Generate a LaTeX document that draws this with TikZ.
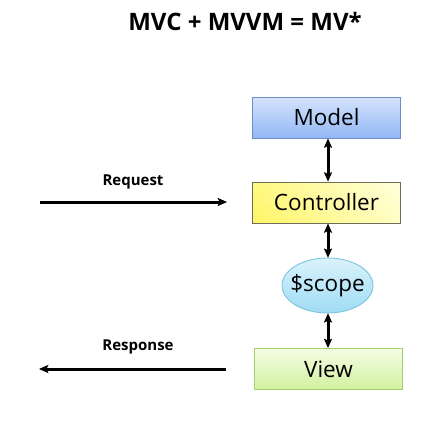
\documentclass[tikz,border=0pt]{standalone}
\usepackage{fontspec}
\setmainfont{Open Sans}
\usetikzlibrary{shapes.geometric}
\definecolor{modtop}{HTML}{D4E3FD}
\definecolor{modbot}{HTML}{94B8F4}
\definecolor{modline}{HTML}{6C8FCB}
\definecolor{ctlA}{HTML}{FFF66A}
\definecolor{ctlB}{HTML}{FFFFDA}
\definecolor{ctlline}{HTML}{6E6E5A}
\definecolor{scptop}{HTML}{DAF3FC}
\definecolor{scpbot}{HTML}{A0DCF4}
\definecolor{scpline}{HTML}{7CC4DE}
\definecolor{viewtop}{HTML}{F4FDE4}
\definecolor{viewbot}{HTML}{D2F1A0}
\definecolor{viewline}{HTML}{A6CF74}
% vertical gradient in a rectangle: x1,ytop,x2,ybot,topcolor,botcolor
\newcommand\vgrad[6]{%
  \foreach \i in {0,...,29}{%
    \pgfmathsetmacro\p{100-\i*100/29}%
    \pgfmathsetmacro\e{min(\i+1.5,30)}%
    \fill[#5!\p!#6] (#1,{#2+(#4-#2)*\i/30}) rectangle (#3,{#2+(#4-#2)*\e/30});
  }}
\newcommand\headUp[1]{\fill (#1) -- ++(-4.2,-9.5) -- ++(4.2,2) -- ++(4.2,-2) -- cycle;}
\newcommand\headDown[1]{\fill (#1) -- ++(-4.2,9.5) -- ++(4.2,-2) -- ++(4.2,2) -- cycle;}
\newcommand\headRight[1]{\fill (#1) -- ++(-9.5,4.2) -- ++(2,-4.2) -- ++(-2,-4.2) -- cycle;}
\newcommand\headLeft[1]{\fill (#1) -- ++(9.5,4.2) -- ++(-2,-4.2) -- ++(2,-4.2) -- cycle;}
% thick vertical bar from lower to upper coordinate (fill)
\newcommand\vbar[2]{\fill ([xshift=-1.5pt,yshift=6pt]#1) rectangle ([xshift=1.5pt,yshift=-6pt]#2);}
\tikzset{
  boxnode/.style={rectangle, minimum width=148pt, minimum height=41pt, inner sep=0pt, font=\fontsize{22.5}{27}\selectfont, line width=0.9pt},
  lbl/.style={font=\bfseries\fontsize{15}{18}\selectfont}
}
\begin{document}
\begin{tikzpicture}[x=1pt,y=1pt]
\useasboundingbox (0,0) rectangle (444,-424);
\node[font=\bfseries\fontsize{24}{28}\selectfont] (title) at (245,-21) {MVC + MVVM = MV*};
% gradients
\vgrad{252.5}{-97}{400.5}{-138}{modtop}{modbot}
\foreach \c in {0,...,29}{
  \foreach \r in {0,...,5}{
    \pgfmathsetmacro\p{100-(0.8*\c/29+0.2*(5-\r)/5)*100}
    \pgfmathsetmacro\ec{min(\c+1.5,30)}
    \pgfmathsetmacro\er{min(\r+1.5,6)}
    \fill[ctlA!\p!ctlB] ({252.5+148*\c/30},{-182-41*\r/6}) rectangle ({252.5+148*\ec/30},{-182-41*\er/6});
  }
}
\foreach \i in {0,...,39}{
  \pgfmathsetmacro\p{100-\i*100/39}
  \pgfmathsetmacro\ya{-258-55*\i/40}
  \pgfmathsetmacro\yb{-258-55*min(\i+1.5,40)/40}
  \pgfmathsetmacro\wa{45.5*sqrt(max(0,1-((\ya+285.5)/27.5)^2))}
  \pgfmathsetmacro\wb{45.5*sqrt(max(0,1-((\yb+285.5)/27.5)^2))}
  \fill[scptop!\p!scpbot] ({327.5-\wa},\ya) -- ({327.5+\wa},\ya) -- ({327.5+\wb},\yb) -- ({327.5-\wb},\yb) -- cycle;
}
\vgrad{254.5}{-348.5}{402.5}{-389.5}{viewtop}{viewbot}
% nodes
\node[boxnode, draw=modline] (model) at (326.5,-117.5) {Model};
\node[boxnode, draw=ctlline] (ctl) at (326.5,-202.5) {Controller};
\node[ellipse, minimum width=91pt, minimum height=55pt, inner sep=0pt, font=\fontsize{22.5}{27}\selectfont] (scope) at (327.5,-285.5) {\$scope};
\draw[scpline, line width=0.9pt] plot[domain=0:360, samples=90] ({327.5+45.5*cos(\x)},{-285.5+27.5*sin(\x)}) -- cycle;
\node[boxnode, draw=viewline] (view) at (328.5,-369) {View};
% vertical connectors
\coordinate (m1) at (model.south -| 328,0);
\coordinate (c1) at (ctl.north -| 328,0);
\coordinate (c2) at (ctl.south -| 328,0);
\coordinate (s1) at (scope.north -| 328,0);
\coordinate (s2) at (scope.south -| 328,0);
\coordinate (v1) at (view.north -| 328,0);
\vbar{c1}{m1} \headUp{m1} \headDown{c1}
\vbar{s1}{c2} \headUp{c2} \headDown{s1}
\vbar{v1}{s2} \headUp{s2} \headDown{v1}
% request / response
\coordinate (reqA) at (40,-202);
\coordinate (reqB) at (227,-202);
\coordinate (resA) at (226,-369);
\coordinate (resB) at (39,-369);
\fill ([yshift=-1.5pt]reqA) rectangle ([xshift=-6pt,yshift=1.5pt]reqB); \headRight{reqB}
\fill ([xshift=6pt,yshift=-1.5pt]resB) rectangle ([yshift=1.5pt]resA); \headLeft{resB}
\node[lbl] (req) at (133,-182) {Request};
\node[lbl] (res) at (138,-347) {Response};
\end{tikzpicture}
\end{document}
